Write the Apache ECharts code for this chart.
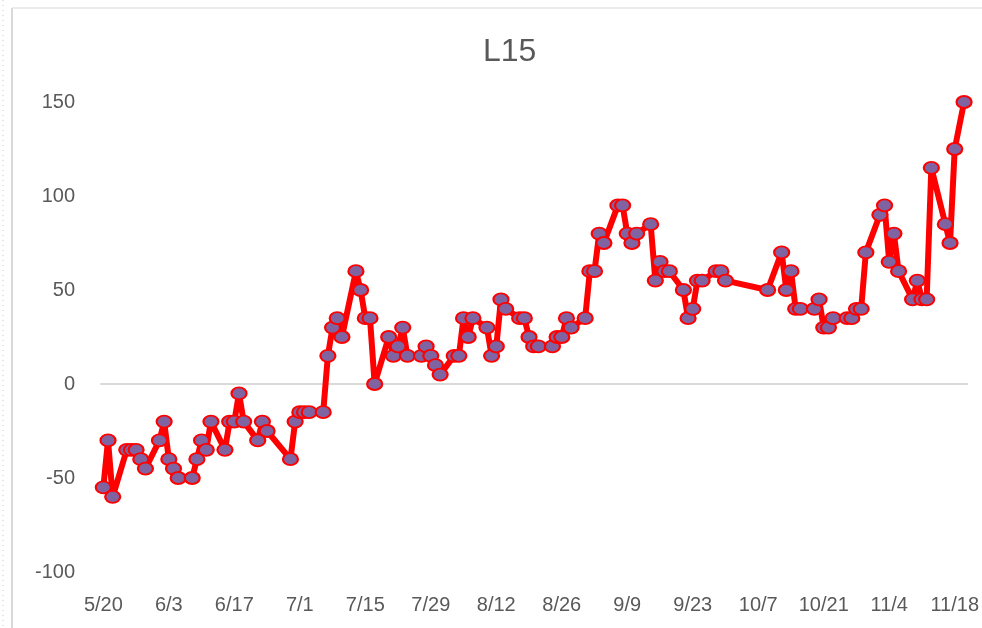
<!DOCTYPE html>
<html>
<head>
<meta charset="utf-8">
<title>L15</title>
<script src="https://cdn.jsdelivr.net/npm/echarts@6/dist/echarts.min.js"></script>
<style>
  html, body { margin: 0; padding: 0; background: #fff; }
  #chart_l15 { width: 982px; height: 628px; }
</style>
</head>
<body>
<div id="chart_l15"></div>
<script>
// 交易日 (2020)
var dates = [
  '5/20','5/21','5/22','5/25','5/26','5/27','5/28','5/29',
  '6/1','6/2','6/3','6/4','6/5','6/8','6/9','6/10','6/11','6/12',
  '6/15','6/16','6/17','6/18','6/19','6/22','6/23','6/24','6/29','6/30',
  '7/1','7/2','7/3','7/6','7/7','7/8','7/9','7/10','7/13','7/14','7/15','7/16','7/17',
  '7/20','7/21','7/22','7/23','7/24','7/27','7/28','7/29','7/30','7/31',
  '8/3','8/4','8/5','8/6','8/7','8/10','8/11','8/12','8/13','8/14',
  '8/17','8/18','8/19','8/20','8/21','8/24','8/25','8/26','8/27','8/28','8/31',
  '9/1','9/2','9/3','9/4','9/7','9/8','9/9','9/10','9/11',
  '9/14','9/15','9/16','9/17','9/18','9/21','9/22','9/23','9/24','9/25',
  '9/28','9/29','9/30','10/9','10/12','10/13','10/14','10/15','10/16',
  '10/19','10/20','10/21','10/22','10/23','10/26','10/27','10/28','10/29','10/30',
  '11/2','11/3','11/4','11/5','11/6','11/9','11/10','11/11','11/12','11/13',
  '11/16','11/17','11/18','11/20'
];
var values = [
  -55,-30,-60,-35,-35,-35,-40,-45,
  -30,-20,-40,-45,-50,-50,-40,-30,-35,-20,
  -35,-20,-20,-5,-20,-30,-20,-25,-40,-20,
  -15,-15,-15,-15,15,30,35,25,60,50,35,35,0,
  25,15,20,30,15,15,20,15,10,5,
  15,15,35,25,35,30,15,20,45,40,
  35,35,25,20,20,20,25,25,35,30,35,
  60,60,80,75,95,95,80,75,80,
  85,55,65,60,60,50,35,40,55,55,
  60,60,55,50,70,50,60,40,40,
  40,45,30,30,35,35,35,40,40,70,
  90,95,65,80,60,45,55,45,45,115,
  85,75,125,150
];
var tickDates = ['5/20','6/3','6/17','7/1','7/15','7/29','8/12','8/26','9/9','9/23','10/7','10/21','11/4','11/18'];
var yTicks = [-100, -50, 0, 50, 100, 150];

var YEAR = 2020;
var DAY = 86400000;
var base = Date.UTC(YEAR, 4, 20);

function toDay(s) {
  var p = s.split('/');
  return Math.round((Date.UTC(YEAR, +p[0] - 1, +p[1]) - base) / DAY);
}
function toLabel(d) {
  var t = new Date(base + Math.round(d) * DAY);
  return (t.getUTCMonth() + 1) + '/' + t.getUTCDate();
}

var points = dates.map(function (s, i) { return [toDay(s), values[i]]; });
var tickDays = tickDates.map(toDay);

var FONT = '"Liberation Sans", Arial, sans-serif';
var GREY = '#595959';
var xMin = -0.5, xMax = 184.7;

var chart = echarts.init(document.getElementById('chart_l15'));
chart.setOption({
  backgroundColor: '#ffffff',
  animation: false,
  title: {
    text: 'L15',
    left: 478,
    top: 31,
    textStyle: { color: GREY, fontSize: 32, fontWeight: 'normal', fontFamily: FONT }
  },
  graphic: [
    { type: 'line', shape: { x1: 12, y1: 8, x2: 12, y2: 628 }, style: { stroke: '#d9d9d9', lineWidth: 2 } },
    { type: 'line', shape: { x1: 12, y1: 8, x2: 982, y2: 8 }, style: { stroke: '#d9d9d9', lineWidth: 1 } },
    { type: 'line', shape: { x1: 3, y1: 0, x2: 3, y2: 628 }, style: { stroke: '#c8c8c8', lineWidth: 1, lineDash: [1, 4] } }
  ],
  grid: { left: 101, right: 10, top: 102, bottom: 56 },
  xAxis: [
    {
      type: 'value',
      min: xMin,
      max: xMax,
      axisLine: { show: false, onZero: false },
      axisTick: { show: false },
      splitLine: { show: false },
      axisLabel: {
        customValues: tickDays,
        formatter: function (v) { return toLabel(v); },
        color: GREY,
        fontSize: 20,
        fontFamily: FONT,
        margin: 23
      }
    },
    {
      // 零线
      type: 'value',
      min: xMin,
      max: xMax,
      position: 'bottom',
      axisLine: { show: true, onZero: true, lineStyle: { color: '#d9d9d9', width: 2 } },
      axisTick: { show: false },
      axisLabel: { show: false },
      splitLine: { show: false }
    }
  ],
  yAxis: {
    type: 'value',
    min: yTicks[0],
    max: yTicks[yTicks.length - 1],
    interval: 50,
    axisLine: { show: false, onZero: false },
    axisTick: { show: false },
    splitLine: { show: false },
    axisLabel: { color: GREY, fontSize: 20, fontFamily: FONT, margin: 26 }
  },
  series: [
    {
      name: 'L15',
      type: 'line',
      xAxisIndex: 0,
      data: points,
      symbol: 'path://M0,5 A5,5 0 1,1 10,5 A5,5 0 1,1 0,5 Z',
      symbolSize: [15, 12],
      showAllSymbol: true,
      lineStyle: { color: '#ff0000', width: 6, join: 'round' },
      itemStyle: { color: '#8064a2', borderColor: '#ff0000', borderWidth: 2 }
    }
  ]
});
</script>
</body>
</html>
